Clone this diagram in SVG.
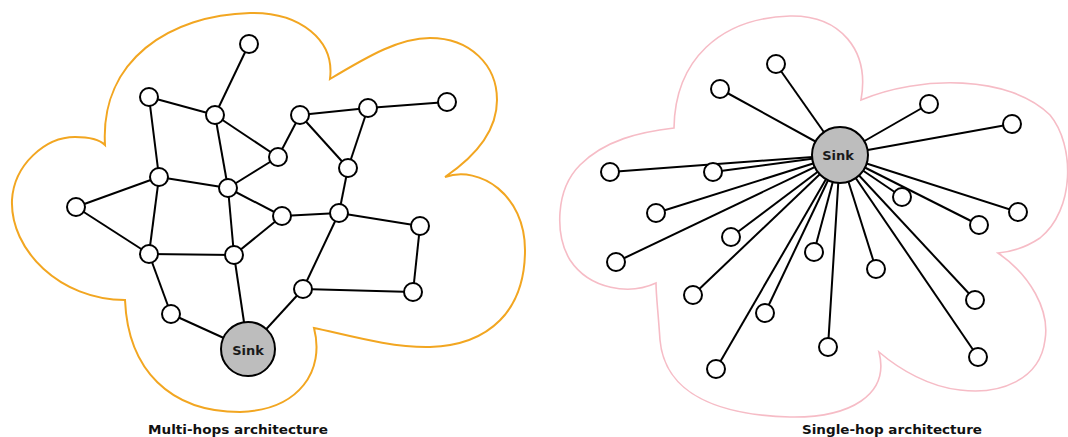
<svg xmlns="http://www.w3.org/2000/svg" width="1068" height="437" viewBox="0 0 1068 437">
<style>
.bg{fill:#ffffff}
.cloudL{fill:none;stroke:#f2a621;stroke-width:2}
.cloudR{fill:none;stroke:#f6bcc6;stroke-width:1.6}
.edge{stroke:#000;stroke-width:2;fill:none}
.node{fill:#fff;stroke:#000;stroke-width:2}
.sink{fill:#bdbdbd;stroke:#000;stroke-width:2}
.sl{font-family:"DejaVu Sans",sans-serif;font-weight:bold;font-size:13px;fill:#1a1a1a;text-anchor:middle}
.cap{font-family:"DejaVu Sans",sans-serif;font-weight:bold;font-size:12px;fill:#111}
</style>
<rect class="bg" x="0" y="0" width="1068" height="437"/>
<g id="cloud-left">
<path class="cloudL" d="M105,145 C100,60 170,15 250,13 C300,12 335,40 330,79 C370,55 400,38 430,38 C470,38 497,65 497,100 C497,135 470,160 445,177 C480,165 525,195 525,250 C525,310 490,345 430,347 C390,348 340,333 314,328 C325,370 300,410 240,412 C170,412 128,370 125,300 C60,300 10,250 12,200 C14,165 45,137 75,137 C90,137 100,140 105,145 Z"/>
</g>
<g id="cloud-right">
<path class="cloudR" d="M674,128 C675,60 720,18 790,16 C840,15 870,50 861,100 C920,75 1010,75 1050,115 C1075,145 1075,210 1040,238 C1025,248 1010,252 998,253 C1030,275 1050,310 1045,340 C1040,380 1000,395 960,390 C930,387 900,370 879,352 C890,395 850,418 790,417 C720,415 665,395 660,340 C658,310 656,295 656,283 C630,295 590,290 570,260 C555,235 555,190 580,165 C605,140 640,132 674,128 Z"/>
</g>
<g id="connectors">
<line class="edge" x1="249" y1="44" x2="215" y2="115"/>
<line class="edge" x1="149" y1="97" x2="215" y2="115"/>
<line class="edge" x1="149" y1="97" x2="159" y2="177"/>
<line class="edge" x1="215" y1="115" x2="228" y2="188"/>
<line class="edge" x1="215" y1="115" x2="278" y2="157"/>
<line class="edge" x1="300" y1="115" x2="278" y2="157"/>
<line class="edge" x1="300" y1="115" x2="368" y2="108"/>
<line class="edge" x1="300" y1="115" x2="348" y2="168"/>
<line class="edge" x1="368" y1="108" x2="447" y2="102"/>
<line class="edge" x1="368" y1="108" x2="348" y2="168"/>
<line class="edge" x1="348" y1="168" x2="339" y2="213"/>
<line class="edge" x1="159" y1="177" x2="228" y2="188"/>
<line class="edge" x1="159" y1="177" x2="76" y2="207"/>
<line class="edge" x1="159" y1="177" x2="149" y2="254"/>
<line class="edge" x1="76" y1="207" x2="149" y2="254"/>
<line class="edge" x1="228" y1="188" x2="278" y2="157"/>
<line class="edge" x1="228" y1="188" x2="282" y2="216"/>
<line class="edge" x1="228" y1="188" x2="234" y2="255"/>
<line class="edge" x1="149" y1="254" x2="234" y2="255"/>
<line class="edge" x1="149" y1="254" x2="171" y2="314"/>
<line class="edge" x1="171" y1="314" x2="248" y2="349"/>
<line class="edge" x1="234" y1="255" x2="248" y2="349"/>
<line class="edge" x1="234" y1="255" x2="282" y2="216"/>
<line class="edge" x1="282" y1="216" x2="339" y2="213"/>
<line class="edge" x1="339" y1="213" x2="303" y2="289"/>
<line class="edge" x1="339" y1="213" x2="420" y2="226"/>
<line class="edge" x1="420" y1="226" x2="413" y2="292"/>
<line class="edge" x1="303" y1="289" x2="413" y2="292"/>
<line class="edge" x1="303" y1="289" x2="248" y2="349"/>
<line class="edge" x1="840" y1="155" x2="776" y2="64"/>
<line class="edge" x1="840" y1="155" x2="720" y2="89"/>
<line class="edge" x1="840" y1="155" x2="929" y2="104"/>
<line class="edge" x1="840" y1="155" x2="1012" y2="124"/>
<line class="edge" x1="840" y1="155" x2="610" y2="172"/>
<line class="edge" x1="840" y1="155" x2="713" y2="172"/>
<line class="edge" x1="840" y1="155" x2="656" y2="213"/>
<line class="edge" x1="840" y1="155" x2="902" y2="197"/>
<line class="edge" x1="840" y1="155" x2="1018" y2="212"/>
<line class="edge" x1="840" y1="155" x2="979" y2="225"/>
<line class="edge" x1="840" y1="155" x2="731" y2="237"/>
<line class="edge" x1="840" y1="155" x2="616" y2="262"/>
<line class="edge" x1="840" y1="155" x2="814" y2="252"/>
<line class="edge" x1="840" y1="155" x2="876" y2="269"/>
<line class="edge" x1="840" y1="155" x2="693" y2="295"/>
<line class="edge" x1="840" y1="155" x2="975" y2="300"/>
<line class="edge" x1="840" y1="155" x2="765" y2="313"/>
<line class="edge" x1="840" y1="155" x2="828" y2="347"/>
<line class="edge" x1="840" y1="155" x2="978" y2="357"/>
<line class="edge" x1="840" y1="155" x2="716" y2="369"/>
</g>
<g id="multi-nodes">
<g id="mA"><circle class="node" cx="249" cy="44" r="9"/></g>
<g id="mB"><circle class="node" cx="149" cy="97" r="9"/></g>
<g id="mC"><circle class="node" cx="215" cy="115" r="9"/></g>
<g id="mD"><circle class="node" cx="300" cy="115" r="9"/></g>
<g id="mE"><circle class="node" cx="368" cy="108" r="9"/></g>
<g id="mF"><circle class="node" cx="447" cy="102" r="9"/></g>
<g id="mG"><circle class="node" cx="278" cy="157" r="9"/></g>
<g id="mH"><circle class="node" cx="348" cy="168" r="9"/></g>
<g id="mI"><circle class="node" cx="159" cy="177" r="9"/></g>
<g id="mJ"><circle class="node" cx="228" cy="188" r="9"/></g>
<g id="mK"><circle class="node" cx="76" cy="207" r="9"/></g>
<g id="mL"><circle class="node" cx="282" cy="216" r="9"/></g>
<g id="mM"><circle class="node" cx="339" cy="213" r="9"/></g>
<g id="mN"><circle class="node" cx="420" cy="226" r="9"/></g>
<g id="mO"><circle class="node" cx="149" cy="254" r="9"/></g>
<g id="mP"><circle class="node" cx="234" cy="255" r="9"/></g>
<g id="mQ"><circle class="node" cx="303" cy="289" r="9"/></g>
<g id="mR"><circle class="node" cx="413" cy="292" r="9"/></g>
<g id="mS"><circle class="node" cx="171" cy="314" r="9"/></g>
<g id="mSink"><circle class="sink" cx="248" cy="349" r="27"/><text class="sl" x="248" y="355">Sink</text></g>
</g>
<g id="single-nodes">
<g id="s1"><circle class="node" cx="776" cy="64" r="9"/></g>
<g id="s2"><circle class="node" cx="720" cy="89" r="9"/></g>
<g id="s3"><circle class="node" cx="929" cy="104" r="9"/></g>
<g id="s4"><circle class="node" cx="1012" cy="124" r="9"/></g>
<g id="s5"><circle class="node" cx="610" cy="172" r="9"/></g>
<g id="s6"><circle class="node" cx="713" cy="172" r="9"/></g>
<g id="s7"><circle class="node" cx="656" cy="213" r="9"/></g>
<g id="s8"><circle class="node" cx="902" cy="197" r="9"/></g>
<g id="s9"><circle class="node" cx="1018" cy="212" r="9"/></g>
<g id="s10"><circle class="node" cx="979" cy="225" r="9"/></g>
<g id="s11"><circle class="node" cx="731" cy="237" r="9"/></g>
<g id="s12"><circle class="node" cx="616" cy="262" r="9"/></g>
<g id="s13"><circle class="node" cx="814" cy="252" r="9"/></g>
<g id="s14"><circle class="node" cx="876" cy="269" r="9"/></g>
<g id="s15"><circle class="node" cx="693" cy="295" r="9"/></g>
<g id="s16"><circle class="node" cx="975" cy="300" r="9"/></g>
<g id="s17"><circle class="node" cx="765" cy="313" r="9"/></g>
<g id="s18"><circle class="node" cx="828" cy="347" r="9"/></g>
<g id="s19"><circle class="node" cx="978" cy="357" r="9"/></g>
<g id="s20"><circle class="node" cx="716" cy="369" r="9"/></g>
<g id="sSink"><circle class="sink" cx="840" cy="155" r="28"/><text class="sl" x="838" y="160">Sink</text></g>
</g>
<g id="captions">
<text class="cap" x="148" y="434" textLength="180" lengthAdjust="spacingAndGlyphs">Multi-hops architecture</text>
<text class="cap" x="802" y="434" textLength="180" lengthAdjust="spacingAndGlyphs">Single-hop architecture</text>
</g>
</svg>
